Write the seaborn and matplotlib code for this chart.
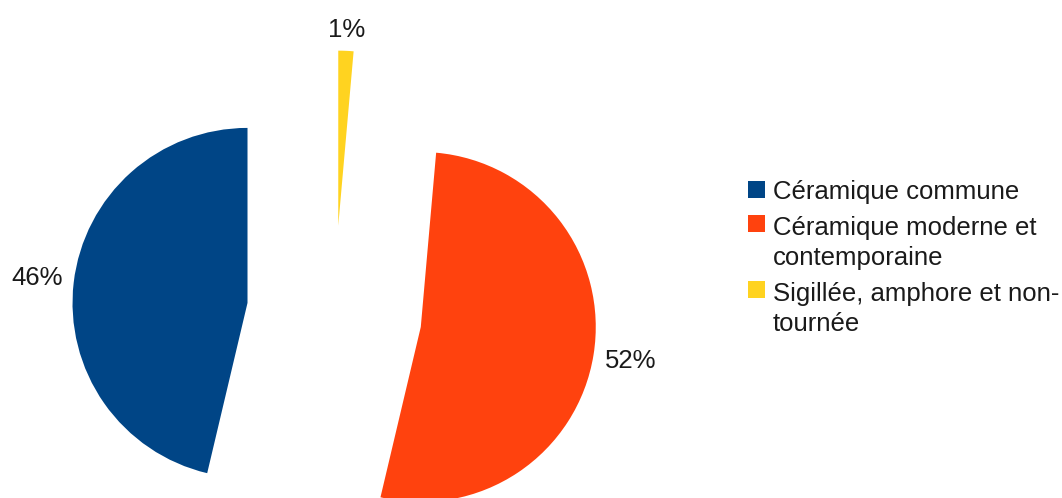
import numpy as np
import matplotlib
matplotlib.use("Agg")
import matplotlib.pyplot as plt
from matplotlib.patches import Patch, Rectangle
from matplotlib.legend_handler import HandlerPatch
import seaborn as sns

# share of sherds per category (percent)
categories = [
    "Céramique commune",
    "Céramique moderne et\ncontemporaine",
    "Sigillée, amphore et non-\ntournée",
]
shares = [46.3, 52.3, 1.4]
colors = ["#004586", "#ff420e", "#ffd320"]

sns.set_theme(style="white")
plt.rcParams["font.family"] = ["Liberation Sans", "DejaVu Sans"]

FS = 18.5
LINESPACING = 1.33

fig = plt.figure(figsize=(10.62, 4.98), dpi=100)
ax = fig.add_axes([0, 0, 1, 1])

wedges, texts, autotexts = ax.pie(
    shares,
    colors=colors,
    startangle=90,
    counterclock=True,
    explode=[0.5, 0.5, 0.5],
    autopct="%.0f%%",
    pctdistance=1.2,
    wedgeprops=dict(linewidth=0),
    textprops=dict(fontsize=FS, color="#1a1a1a"),
)

# 175 px per unit radius, pie centre placed like the original
ax.set_xlim(-1.911, 4.158)
ax.set_ylim(-1.057, 1.789)
ax.set_aspect("equal", adjustable="box")
ax.axis("off")

# put each percent label just outside its wedge, office-style:
# the nearest edge of the text box sits a fixed gap from the arc
fig.canvas.draw()
renderer = fig.canvas.get_renderer()
inv = ax.transData.inverted()
for w, t in zip(wedges, autotexts):
    ang = np.deg2rad((w.theta1 + w.theta2) / 2)
    ux, uy = np.cos(ang), np.sin(ang)
    bb = t.get_window_extent(renderer)
    (x0, y0), (x1, y1) = inv.transform([[bb.x0, bb.y0], [bb.x1, bb.y1]])
    hw, hh = (x1 - x0) / 2, (y1 - y0) / 2
    dist = w.r * 1.06 + abs(ux) * hw + abs(uy) * hh * 0.8
    cx, cy = w.center
    t.set_position((cx + dist * ux, cy + dist * uy))


def top_aligned(n_lines):
    # legend square sits on the first text line, not in the middle
    def make(legend, orig_handle, xdescent, ydescent, width, height, fontsize):
        shift = (n_lines - 1) * fontsize * LINESPACING * 1.17 / 2
        return Rectangle((-xdescent, -ydescent + shift), width, height)
    return HandlerPatch(patch_func=make)


handles = [Patch(facecolor=c, edgecolor="none") for c in colors]
hmap = {h: top_aligned(lab.count("\n") + 1) for h, lab in zip(handles, categories)}
leg = fig.legend(
    handles, categories,
    loc="upper left", bbox_to_anchor=(0.704, 0.639),
    frameon=False, fontsize=FS,
    handlelength=0.66, handleheight=0.66, handletextpad=0.31,
    labelspacing=0.47, borderpad=0, borderaxespad=0,
    labelcolor="#1a1a1a", handler_map=hmap,
)
for t in leg.get_texts():
    t.set_linespacing(LINESPACING)

fig.savefig("out.png", dpi=100)
